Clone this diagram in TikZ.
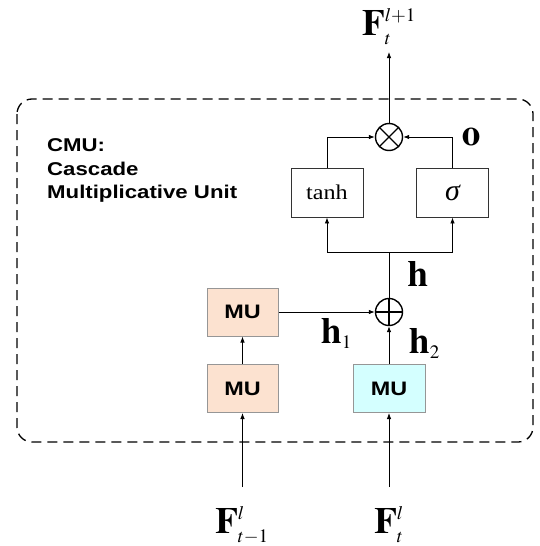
\documentclass[tikz,border=0pt]{standalone}
\usepackage{mathptmx}
\usepackage[no-math]{fontspec}
\newfontfamily\lsans[FakeStretch=1.2]{Liberation Sans}
\newfontfamily\lserif[FakeStretch=1.15]{Liberation Serif}
\newfontfamily\lserifplain{Liberation Serif}
\usetikzlibrary{arrows.meta}
\DeclareMathSizes{37}{37}{19}{15}
\definecolor{peach}{RGB}{252,226,208}
\definecolor{lcyan}{RGB}{212,255,255}
\definecolor{bordergray}{RGB}{150,150,150}
\tikzset{
  arr/.style={-{Latex[length=6pt,width=4.5pt]}, line width=0.8pt},
  ln/.style={line width=0.8pt},
  opbox/.style={draw=black!80, line width=0.9pt, minimum width=72pt, minimum height=49pt, inner sep=0pt},
  mubox/.style={draw=bordergray, line width=1pt, minimum width=71pt, minimum height=48pt, inner sep=0pt, font=\lsans\bfseries\fontsize{19.5}{21}\selectfont},
  mul/.style={circle, draw, line width=1.4pt, minimum size=27pt, inner sep=0pt,
    path picture={\draw[line width=1.4pt] (path picture bounding box.center) +(45:13.5pt) -- +(225:13.5pt)
      (path picture bounding box.center) +(135:13.5pt) -- +(-45:13.5pt);}},
  add/.style={circle, draw, line width=1.4pt, minimum size=27pt, inner sep=0pt,
    path picture={\draw[line width=1.4pt] (path picture bounding box.center) +(0:13.5pt) -- +(180:13.5pt)
      (path picture bounding box.center) +(90:13.5pt) -- +(-90:13.5pt);}},
  mlabel/.style={inner sep=0pt, font=\fontsize{37}{40}\selectfont},
  cmutext/.style={inner sep=0pt, anchor=base west, font=\lsans\bfseries\fontsize{18.5}{22}\selectfont}
}
\begin{document}
\begin{tikzpicture}[x=1pt,y=-1pt]
\useasboundingbox (0,0) rectangle (540,546);
% dashed frame
\draw[line width=1.3pt, dash pattern=on 10pt off 6pt, rounded corners=15pt] (17,99) rectangle (533,442);
% CMU text
\node[cmutext] (t1) at (47,151) {CMU:};
\node[cmutext] (t2) at (47,175) {Cascade};
\node[cmutext] (t3) at (47,198) {Multiplicative Unit};
% operators
\node[mul] (mul) at (389,137) {};
\node[add] (add) at (389,312) {};
% gate boxes
\node[opbox, font=\lserif\fontsize{21}{24}\selectfont] (tanh) at (327,192.5) {tanh};
\node[opbox, font=\lserifplain\itshape\fontsize{30}{32}\selectfont] (sig) at (452.5,192.5) {σ};
% MU boxes
\node[mubox, fill=peach] (mu1) at (242.5,312) {MU};
\node[mubox, fill=peach] (mu2) at (242.5,388.5) {MU};
\node[mubox, fill=lcyan, minimum width=72pt] (mu3) at (389,388.5) {MU};
% coordinates
\coordinate (br) at (389,252);
\coordinate (outtip) at (389,52);
\coordinate (in1) at (242.5,487);
\coordinate (in2) at (389,487);
% connectors
\draw[arr] (mul.north) -- (outtip);
\draw[arr] (tanh.north) |- (mul.west);
\draw[arr] (sig.north) |- (mul.east);
\draw[ln] (add.north) -- (br);
\draw[arr] (br) -| (tanh.south);
\draw[arr] (br) -| (sig.south);
\draw[arr] (mu1.east) -- (add.west);
\draw[arr] (mu3.north) -- (add.south);
\draw[arr] (mu2.north) -- (mu1.south);
\draw[arr] (in1) -- (mu2.south);
\draw[arr] (in2) -- (mu3.south);
% labels
\node[mlabel, anchor=base] (Fout) at (389,35) {$\mathbf{F}_t^{l+1}$};
\node[mlabel, anchor=base] (Fin1) at (242,533) {$\mathbf{F}_{t-1}^{l}$};
\node[mlabel, anchor=base] (Fin2) at (389,533) {$\mathbf{F}_t^{l}$};
\node[mlabel, anchor=base] (o) at (471,145) {$\mathbf{o}$};
\node[mlabel, anchor=base] (h) at (418,286) {$\mathbf{h}$};
\node[mlabel, anchor=base west] (h1) at (321,343) {$\mathbf{h}_1$};
\node[mlabel, anchor=base west] (h2) at (409,353) {$\mathbf{h}_2$};
\end{tikzpicture}
\end{document}
